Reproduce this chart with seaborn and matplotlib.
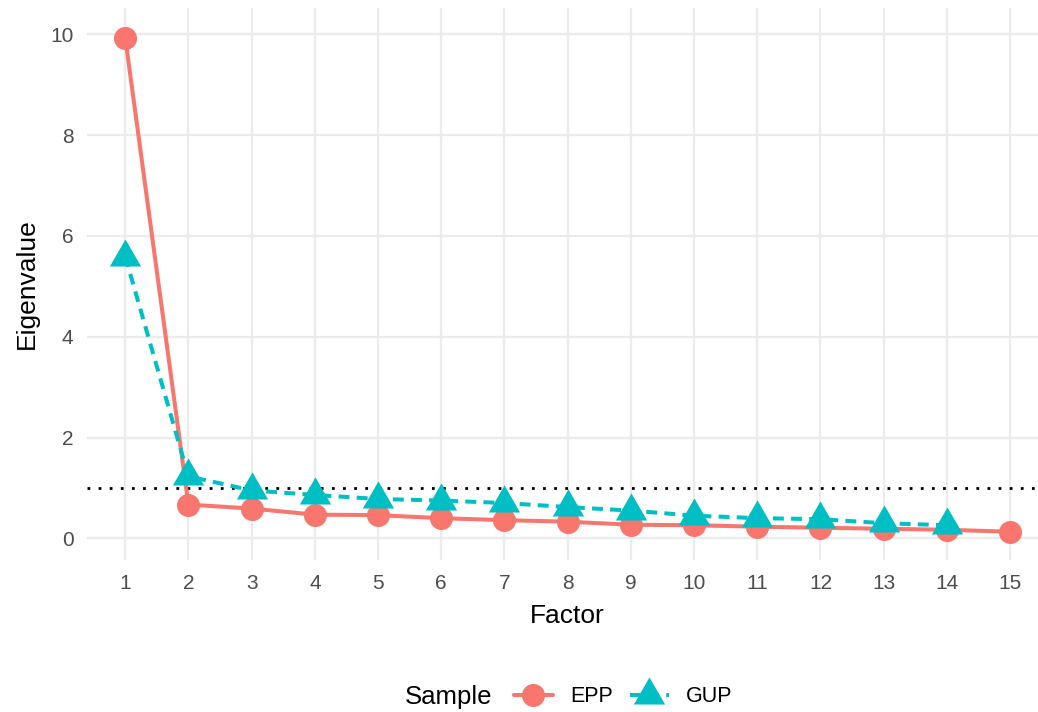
import numpy as np
import matplotlib
matplotlib.use("Agg")
import matplotlib.pyplot as plt
from matplotlib.lines import Line2D
import seaborn as sns

# scree plot data
factors = list(range(1, 16))
epp = [9.93, 0.67, 0.59, 0.47, 0.46, 0.40, 0.36, 0.33, 0.27, 0.26, 0.23, 0.21, 0.19, 0.17, 0.13]
gup_factors = list(range(1, 15))
gup = [5.59, 1.23, 0.95, 0.86, 0.78, 0.75, 0.70, 0.62, 0.55, 0.45, 0.40, 0.38, 0.30, 0.26]
samples = ["EPP", "GUP"]
colors = {"EPP": "#F8766D", "GUP": "#00BFC4"}
cutoff = 1

sns.set_theme(style="white")
plt.rcParams["font.family"] = ["Liberation Sans", "DejaVu Sans"]
plt.rcParams["text.color"] = "black"

# equilateral triangle like R pch 17 (centroid at the point)
tri = [(0, 1), (0.866, -0.5), (-0.866, -0.5)]
dash = (0, (2.7, 1.8))

fig = plt.figure(figsize=(10.38, 7.12), dpi=100)
ax = fig.add_axes([87.3 / 1038, 1 - 560 / 712, (1048 - 87.3) / 1038, (560 - 8) / 712])

ax.axhline(cutoff, color="black", linestyle=(0, (1, 3.0)), linewidth=2.0, zorder=1.5)

sns.lineplot(x=factors, y=epp, color=colors["EPP"], linewidth=2.9, ax=ax, zorder=2)
sns.lineplot(x=gup_factors, y=gup, color=colors["GUP"], linewidth=2.9, linestyle=dash, ax=ax, zorder=2)
sns.scatterplot(x=factors, y=epp, color=colors["EPP"], marker="o", s=16.6 ** 2, linewidth=0, ax=ax, zorder=3)
sns.scatterplot(x=gup_factors, y=gup, color=colors["GUP"], marker=tri, s=26 ** 2, linewidth=0, ax=ax, zorder=4)

ax.set_xlim(0.4, 15.6)
ax.set_ylim(-0.43, 10.52)
ax.set_xticks(factors)
ax.set_yticks([0, 2, 4, 6, 8, 10])
ax.grid(True, color="#EBEBEB", linewidth=1.6)
ax.set_axisbelow(True)
for s in ax.spines.values():
    s.set_visible(False)
ax.tick_params(length=0, labelsize=15, labelcolor="#4D4D4D")
ax.tick_params(axis="x", pad=10)
ax.tick_params(axis="y", pad=10)
ax.set_xlabel("Factor", fontsize=19, color="black", labelpad=8)
ax.set_ylabel("Eigenvalue", fontsize=19, color="black", labelpad=8)

# legend at the bottom, title on the left
fig.text(405 / 1038, 1 - 697 / 712, "Sample", fontsize=18.5, ha="left", va="center", color="black")
handles = [
    Line2D([], [], color=colors["EPP"], linewidth=2.9, marker="o", markersize=16.6, markeredgewidth=0),
    Line2D([], [], color=colors["GUP"], linewidth=2.9, linestyle=dash, marker=tri, markersize=26, markeredgewidth=0),
]
leg = fig.legend(handles, samples, loc="center left", bbox_to_anchor=(514 / 1038, 1 - 697 / 712),
                 ncol=2, frameon=False, fontsize=15.5, handlelength=1.8, handletextpad=0.8,
                 columnspacing=0.8, borderpad=0, borderaxespad=0)
for t in leg.get_texts():
    t.set_color("black")

fig.savefig("out.png", dpi=100)
